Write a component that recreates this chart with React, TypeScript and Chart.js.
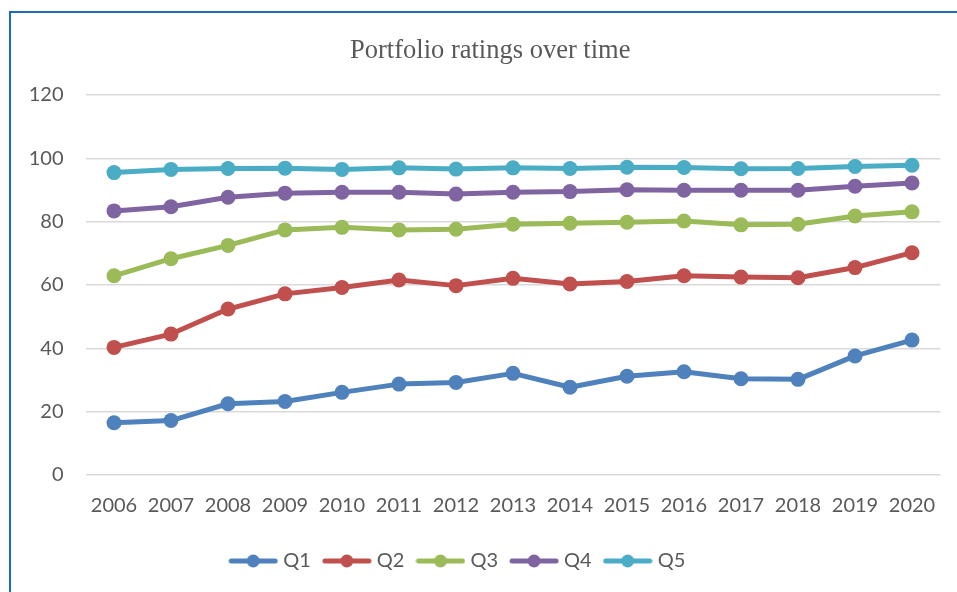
import React, { useEffect, useRef } from "react";
import { Chart, registerables } from "chart.js";

Chart.register(...registerables);

const categories = ["2006", "2007", "2008", "2009", "2010", "2011", "2012", "2013", "2014", "2015", "2016", "2017", "2018", "2019", "2020"];
const q1 = [16.5, 17.2, 22.5, 23.2, 26.1, 28.7, 29.2, 32.1, 27.7, 31.2, 32.6, 30.4, 30.2, 37.6, 42.6];
const q2 = [40.3, 44.5, 52.4, 57.2, 59.2, 61.6, 59.8, 62.1, 60.3, 61.1, 62.9, 62.5, 62.3, 65.5, 70.2];
const q3 = [62.9, 68.3, 72.5, 77.4, 78.2, 77.4, 77.6, 79.2, 79.5, 79.8, 80.2, 79.0, 79.2, 81.8, 83.1];
const q4 = [83.4, 84.7, 87.7, 89.0, 89.3, 89.3, 88.7, 89.3, 89.5, 90.1, 89.9, 89.9, 89.9, 91.2, 92.2];
const q5 = [95.5, 96.5, 96.8, 96.9, 96.5, 97.0, 96.6, 97.0, 96.8, 97.2, 97.1, 96.7, 96.8, 97.4, 97.8];
const seriesNames = ["Q1", "Q2", "Q3", "Q4", "Q5"];
const seriesColors = ["#4F81BD", "#C0504D", "#9BBB59", "#8064A2", "#4BACC6"];
const yTicks = [0, 20, 40, 60, 80, 100, 120];
const title = "Portfolio ratings over time";

function legendIcon(color: string): HTMLCanvasElement {
  const c = document.createElement("canvas");
  c.width = 50;
  c.height = 16;
  const ctx = c.getContext("2d")!;
  ctx.strokeStyle = color;
  ctx.lineWidth = 5;
  ctx.lineCap = "round";
  ctx.beginPath();
  ctx.moveTo(3, 8);
  ctx.lineTo(47, 8);
  ctx.stroke();
  ctx.fillStyle = color;
  ctx.beginPath();
  ctx.arc(25, 8, 6.5, 0, Math.PI * 2);
  ctx.fill();
  return c;
}

export default function App() {
  const ref = useRef<HTMLCanvasElement>(null);
  useEffect(() => {
    const all = [q1, q2, q3, q4, q5];
    const icons = seriesColors.map(legendIcon);
    const shiftBlocks = {
      id: "shiftBlocks",
      afterLayout(chart: any) {
        if (chart.legend) {
          chart.legend.left -= 11;
          chart.legend.right -= 11;
        }
        if (chart.titleBlock) {
          chart.titleBlock.left += 20;
          chart.titleBlock.right += 20;
        }
      },
    };
    const chart = new Chart(ref.current!, {
      type: "line",
      data: {
        labels: categories,
        datasets: all.map((d, i) => ({
          label: seriesNames[i],
          data: d,
          borderColor: seriesColors[i],
          backgroundColor: seriesColors[i],
          borderWidth: 5,
          borderCapStyle: "round",
          borderJoinStyle: "round",
          pointRadius: 7.5,
          pointBorderWidth: 0,
          pointBackgroundColor: seriesColors[i],
          tension: 0,
        })),
      },
      options: {
        animation: false,
        responsive: false,
        maintainAspectRatio: false,
        layout: { padding: { left: 0, right: 16.5, top: 0, bottom: 11 } },
        scales: {
          x: {
            offset: true,
            grid: { display: false, drawTicks: false },
            border: { display: false },
            ticks: { color: "#595959", font: { family: "Lato", size: 20 }, padding: 19, maxRotation: 0, autoSkip: false },
            afterFit(scale: any) {
              scale.height = 60;
            },
          },
          y: {
            min: 0,
            max: 120,
            afterBuildTicks(scale: any) {
              scale.ticks = yTicks.map((v) => ({ value: v }));
            },
            grid: { color: "#D9D9D9", lineWidth: 1.5, drawTicks: false },
            border: { display: false },
            ticks: { color: "#595959", font: { family: "Lato", size: 20 }, padding: 22 },
            afterFit(scale: any) {
              scale.width = 85.5;
            },
          },
        },
        plugins: {
          title: {
            display: true,
            text: title,
            color: "#595959",
            font: { family: "Liberation Serif", size: 26.5, weight: "normal" },
            padding: { top: 35, bottom: 28.2 },
          },
          legend: {
            position: "bottom",
            labels: {
              usePointStyle: true,
              pointStyleWidth: 40,
              color: "#595959",
              font: { family: "Lato", size: 20 },
              padding: 16,
              generateLabels(chart: any) {
                const items = Chart.defaults.plugins.legend.labels.generateLabels(chart);
                return items.map((it: any, i: number) => ({ ...it, pointStyle: icons[i] }));
              },
            },
          },
          tooltip: { enabled: false },
        },
      },
      plugins: [shiftBlocks],
    });
    return () => chart.destroy();
  }, []);
  return (
    <div style={{ position: "fixed", left: 0, top: 0, width: 957, height: 592, background: "#fff" }}>
      <canvas ref={ref} width={957} height={592} style={{ position: "absolute", left: 0, top: 0 }} />
      <div
        style={{
          position: "absolute",
          left: 9,
          top: 11,
          right: -4,
          bottom: -4,
          borderTop: "2px solid #1C6BC0",
          borderLeft: "2px solid #1C6BC0",
          pointerEvents: "none",
        }}
      />
    </div>
  );
}
